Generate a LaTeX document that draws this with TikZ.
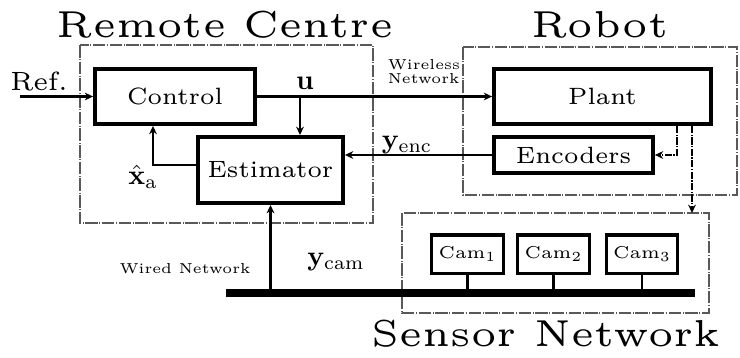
\documentclass[tikz,border=0pt]{standalone}
\usepackage{amsmath}
\usepackage[no-math]{fontspec}
\setmainfont{lmroman6-regular.otf}
\newfontfamily\wideface{lmroman5-regular.otf}
\usetikzlibrary{arrows.meta}

\tikzset{
  blk/.style={draw,line width=1.4pt,inner sep=0pt,font=\fontsize{8.5}{9}\selectfont},
  cambox/.style={draw,line width=1.1pt,inner sep=0pt,minimum width=25.6pt,
                 minimum height=13.7pt,font=\wideface\fontsize{6.2}{7}\selectfont},
  zone/.style={draw=black!65,line width=0.4pt,
               dash pattern=on 4.5pt off 0.6pt on 0.3pt off 0.6pt},
  sig/.style={line width=0.75pt,-{Stealth[length=3pt,width=2.8pt]}},
  link/.style={line width=0.75pt,dash pattern=on 2.6pt off 0.5pt on 0.5pt off 0.5pt,
               -{Stealth[length=3pt,width=2.8pt]}},
  title/.style={font=\wideface\fontsize{13.5}{15}\selectfont},
  tiny/.style={font=\wideface\fontsize{5.2}{6}\selectfont},
  lbl/.style={font=\fontsize{9.5}{10}\selectfont}
}

\begin{document}
\begin{tikzpicture}[x=0.36pt,y=-0.36pt]
 \useasboundingbox (0,0) rectangle (740,358);
 % the three sites
 \draw[zone] (80,45) rectangle (373,223);
 \draw[zone] (463,47) rectangle (737,195);
 \draw[zone] (402,213) rectangle (709,313);
 \node[title] (rcTitle) at (225,25) {Remote Centre};
 \node[title] (robTitle) at (600,25) {Robot};
 \node[title] (snTitle) at (546,334) {Sensor Network};
 % blocks
 \node[blk,minimum width=57.6pt,minimum height=19.8pt] (ctrl) at (175,96.5) {Control};
 \node[blk,minimum width=52.2pt,minimum height=23.8pt] (est) at (270.5,170) {Estimator};
 \node[blk,minimum width=78.1pt,minimum height=19.8pt] (plant) at (602.5,96.5) {Plant};
 \node[blk,minimum width=57.2pt,minimum height=13pt] (enc) at (573.5,155) {Encoders};
 \node[cambox] (cam1) at (467.5,254) {Cam$_1$};
 \node[cambox] (cam2) at (553.5,254) {Cam$_2$};
 \node[cambox] (cam3) at (642,254) {Cam$_3$};
 % wired bus
 \coordinate (busL) at (226,293);
 \coordinate (busR) at (695,293);
 \draw[line width=2.9pt] (busL) -- (busR);
 \foreach \c in {cam1,cam2,cam3}
   \draw[line width=0.75pt] (\c.south) -- (\c.south |- busL);
 % signals
 \coordinate (refIn) at (20,96.5);
 \draw[sig] (refIn) -- (ctrl.west);
 \node[lbl] (refLbl) at (39,81) {Ref.};
 \draw[sig] (ctrl.east) -- (plant.west);
 \coordinate (uTap) at (300,96.5);
 \draw[sig] (uTap) -- (uTap |- est.north);
 \node (uLbl) at (305,83) {$\mathbf{u}$};
 \draw[sig] (est.west |- 0,165) -| (ctrl.south -| 153,0);
 \node (xhatLbl) at (143,177) {$\hat{\mathbf{x}}_{\mathrm{a}}$};
 \draw[sig] (enc.west) -- (enc.west -| est.east);
 \node (yencLbl) at (407,145) {$\mathbf{y}_{\mathrm{enc}}$};
 \node[tiny,align=left,anchor=west] (wlLbl) at (378,72) {Wireless\\[-1pt]Network};
 \draw[link] (plant.south -| 677,0) |- (enc.east);
 \coordinate (snTop) at (692,213);
 \draw[link] (plant.south -| 692,0) -- (snTop);
 \draw[sig] (busL -| est.south) -- (est.south);
 \node[tiny] (wiredLbl) at (185,269) {Wired Network};
 \node (ycamLbl) at (336,262) {$\mathbf{y}_{\mathrm{cam}}$};
\end{tikzpicture}
\end{document}
